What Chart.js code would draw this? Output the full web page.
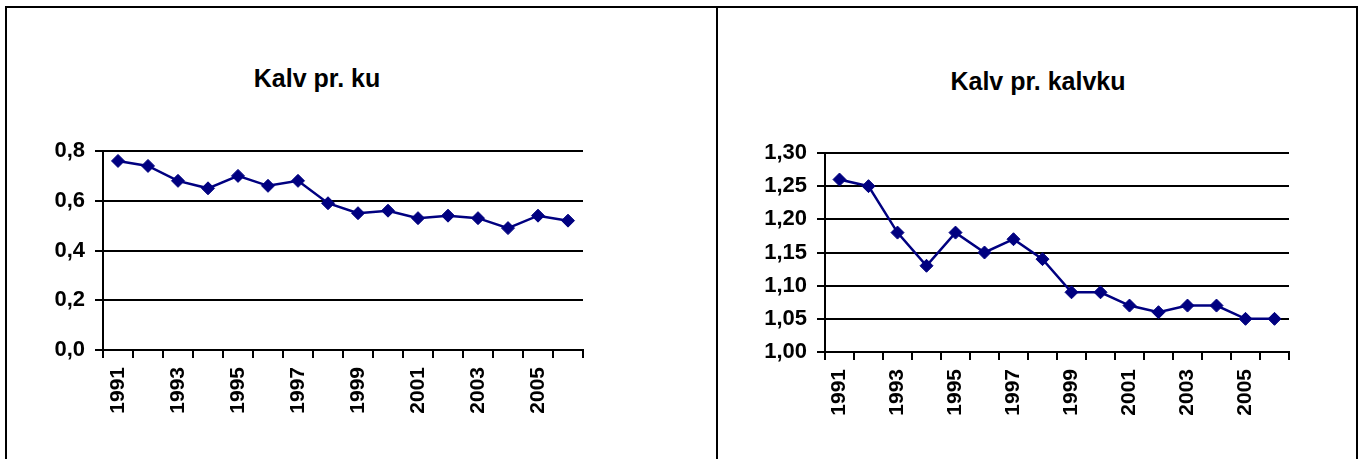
<!DOCTYPE html>
<html>
<head>
<meta charset="utf-8">
<script src="https://cdn.jsdelivr.net/npm/chart.js@4.4.0/dist/chart.umd.min.js"></script>
<style>
  html, body { margin: 0; padding: 0; background: #fff; width: 1362px; height: 459px; overflow: hidden; }
  .box { position: absolute; border: 2px solid #000; box-sizing: border-box; }
  .title { position: absolute; width: 300px; text-align: center; font: bold 25px "Liberation Sans", Arial, sans-serif; line-height: 25px; color: #000; white-space: nowrap; }
  canvas { position: absolute; }
</style>
</head>
<body>
<div class="box" style="left:5px; top:6px; width:713px; height:480px;"></div>
<div class="box" style="left:716px; top:6px; width:642px; height:480px;"></div>

<div class="title" id="t1" style="left:167px; top:66px;"></div>
<div class="title" id="t2" style="left:888px; top:69px;"></div>

<div style="position:absolute; left:7px; top:8px; width:709px; height:451px;"><canvas id="c1" width="709" height="451"></canvas></div>
<div style="position:absolute; left:718px; top:8px; width:638px; height:451px;"><canvas id="c2" width="638" height="451"></canvas></div>

<script>
// ---- Data ----
const years = ['1991','1992','1993','1994','1995','1996','1997','1998','1999','2000','2001','2002','2003','2004','2005','2006'];
const titleKu = 'Kalv pr. ku';
const titleKalvku = 'Kalv pr. kalvku';
const kalvPrKu = [0.76, 0.74, 0.68, 0.65, 0.70, 0.66, 0.68, 0.59, 0.55, 0.56, 0.53, 0.54, 0.53, 0.49, 0.54, 0.52];
const kalvPrKalvku = [1.26, 1.25, 1.18, 1.13, 1.18, 1.15, 1.17, 1.14, 1.09, 1.09, 1.07, 1.06, 1.07, 1.07, 1.05, 1.05];
const yTickValuesKu = [0.0, 0.2, 0.4, 0.6, 0.8];
const yTickLabelsKu = ['0,0', '0,2', '0,4', '0,6', '0,8'];
const yTickValuesKalvku = [1.00, 1.05, 1.10, 1.15, 1.20, 1.25, 1.30];
const yTickLabelsKalvku = ['1,00', '1,05', '1,10', '1,15', '1,20', '1,25', '1,30'];

document.getElementById('t1').textContent = titleKu;
document.getElementById('t2').textContent = titleKalvku;

const YFONT = { family: '"Liberation Sans", Arial, sans-serif', size: 22, weight: 'bold' };
const XFONT = { family: '"Liberation Sans", Arial, sans-serif', size: 21, weight: 'bold' };
const NAVY = '#000080';

function makeChart(id, values, tickVals, tickLabels, geom) {
  const ctx = document.getElementById(id);
  return new Chart(ctx, {
    type: 'line',
    data: {
      labels: years,
      datasets: [{
        data: values,
        borderColor: NAVY,
        backgroundColor: NAVY,
        borderWidth: 2.5,
        pointStyle: 'rectRot',
        pointRadius: 6.5,
        pointHoverRadius: 6.5,
        pointBackgroundColor: NAVY,
        pointBorderColor: NAVY,
        pointBorderWidth: 1,
        tension: 0,
        fill: false
      }]
    },
    options: {
      responsive: false,
      animation: false,
      events: [],
      layout: { padding: { left: 0, top: geom.top, right: geom.right, bottom: 0 } },
      plugins: { legend: { display: false }, title: { display: false }, tooltip: { enabled: false } },
      scales: {
        x: {
          type: 'category',
          offset: true,
          grid: { display: true, offset: true, drawOnChartArea: false, drawTicks: true, tickLength: 8, color: '#000', lineWidth: 2 },
          border: { display: true, color: '#000', width: 2 },
          ticks: {
            autoSkip: false,
            maxRotation: 90,
            minRotation: 90,
            padding: 9,
            color: '#000',
            font: XFONT,
            callback: function(v, i) { return i % 2 === 0 ? years[i] : ''; }
          },
          afterFit: function(s) { s.height = geom.xHeight; }
        },
        y: {
          min: tickVals[0],
          max: tickVals[tickVals.length - 1],
          grid: { display: true, drawTicks: true, tickLength: 8, color: '#000', lineWidth: 2 },
          border: { display: true, color: '#000', width: 2 },
          afterBuildTicks: function(s) { s.ticks = tickVals.map(v => ({ value: v })); },
          ticks: {
            color: '#000',
            font: YFONT,
            padding: 10,
            callback: function(v) {
              const i = tickVals.findIndex(t => Math.abs(t - v) < 1e-9);
              return i >= 0 ? tickLabels[i] : '';
            }
          },
          afterFit: function(s) { s.width = geom.yWidth; }
        }
      }
    }
  });
}

makeChart('c1', kalvPrKu, yTickValuesKu, yTickLabelsKu, { top: 143, right: 133, xHeight: 109, yWidth: 96 });
makeChart('c2', kalvPrKalvku, yTickValuesKalvku, yTickLabelsKalvku, { top: 145, right: 67, xHeight: 107, yWidth: 107 });
</script>
</body>
</html>
